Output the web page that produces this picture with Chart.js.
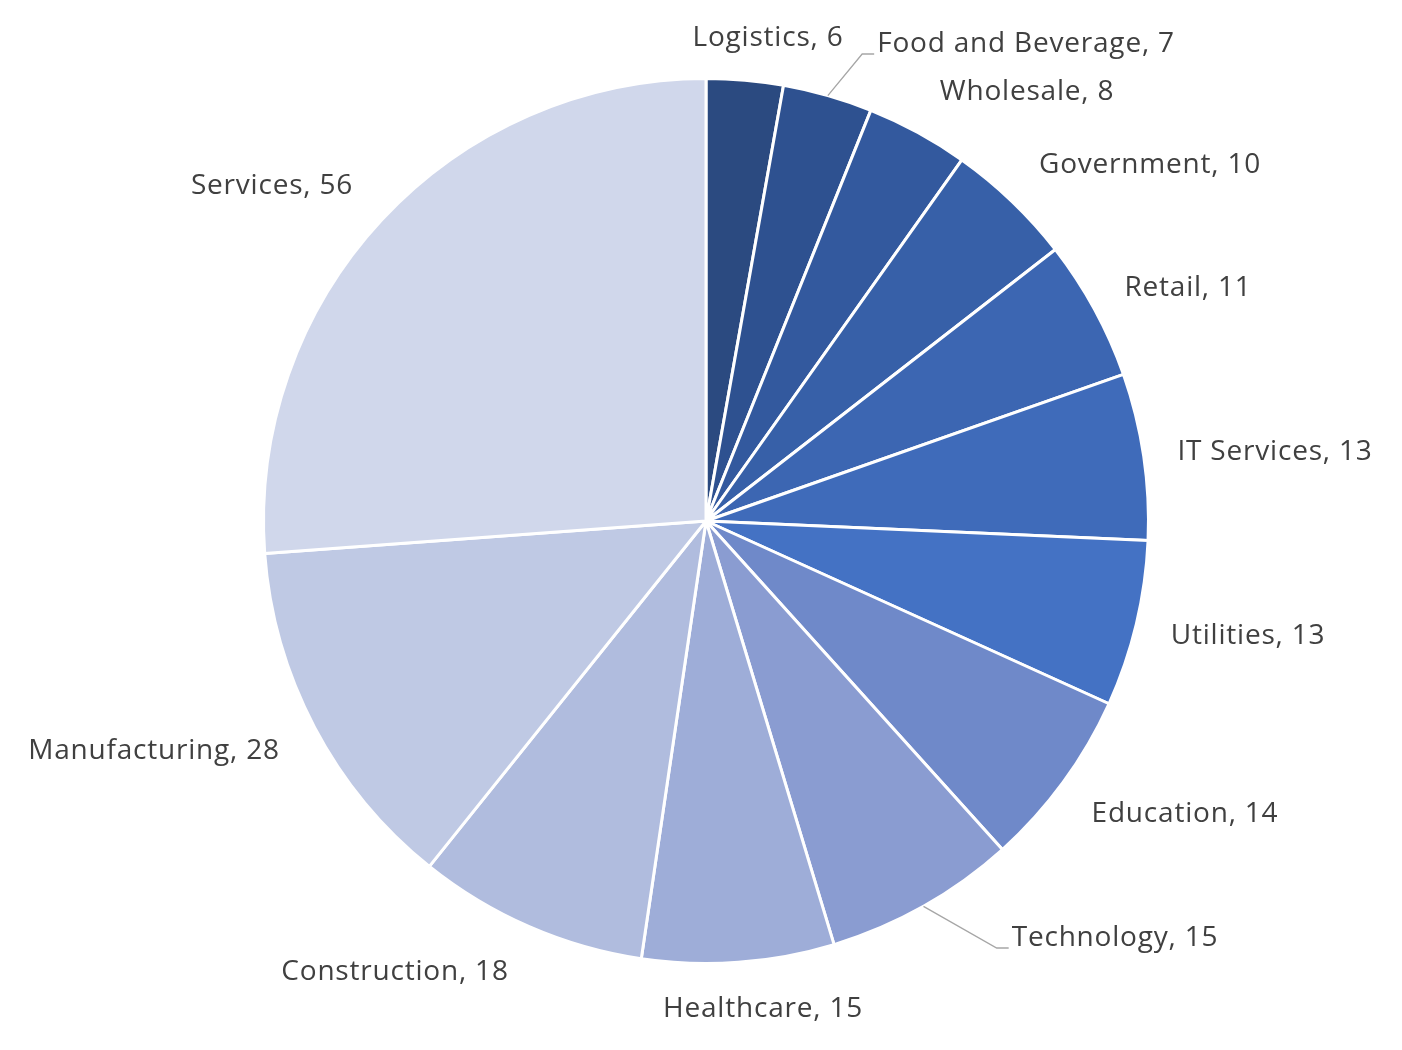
<!DOCTYPE html>
<html>
<head>
    <title>Sectors</title>
    <script src="https://cdn.jsdelivr.net/npm/chart.js"></script>
    <style>
        html, body { margin: 0; padding: 0; background: #ffffff; }
        #wrap { width: 1402px; height: 1050px; }
    </style>
</head>
<body>
    <div id="wrap"><canvas id="pie"></canvas></div>
    <script>
        const sectors = ['Logistics', 'Food and Beverage', 'Wholesale', 'Government', 'Retail', 'IT Services',
            'Utilities', 'Education', 'Technology', 'Healthcare', 'Construction', 'Manufacturing', 'Services'];
        const counts = [6, 7, 8, 10, 11, 13, 13, 14, 15, 15, 18, 28, 56];

        const sliceColors = ['#2b4a80', '#2e5190', '#33599e', '#3760a8', '#3c66b2', '#3f6bba',
            '#4472c4', '#6f89c9', '#8a9cd1', '#9eadd8', '#b0bcde', '#bfc9e4', '#d0d7eb'];

        // where each label's text is centred, and which ones get a leader line
        const labelSpots = [
            [768, 38], [1026, 44], [1027, 92], [1150, 165], [1188, 288], [1275, 452],
            [1248, 636], [1185, 814], [1115, 938], [763, 1009], [395, 972], [154, 751], [272, 186]
        ];
        const withLeader = [1, 8];

        const labelPlugin = {
            id: 'sliceLabels',
            afterDatasetsDraw(chart) {
                const ctx = chart.ctx;
                const arcs = chart.getDatasetMeta(0).data;
                ctx.save();
                ctx.font = '28px "Open Sans", "Noto Sans", sans-serif';
                ctx.letterSpacing = '0.8px';
                ctx.fillStyle = '#404040';
                ctx.textAlign = 'center';
                ctx.textBaseline = 'middle';
                sectors.forEach((name, i) => {
                    const text = name + ', ' + counts[i];
                    const [x, y] = labelSpots[i];
                    ctx.fillText(text, x, y);
                    if (withLeader.includes(i)) {
                        const a = arcs[i];
                        const mid = (a.startAngle + a.endAngle) / 2;
                        const sx = a.x + Math.cos(mid) * a.outerRadius;
                        const sy = a.y + Math.sin(mid) * a.outerRadius;
                        const left = x - ctx.measureText(text).width / 2 - 3;
                        const ly = y + 10;
                        ctx.beginPath();
                        ctx.strokeStyle = '#a6a6a6';
                        ctx.lineWidth = 1.3;
                        ctx.moveTo(sx, sy);
                        ctx.lineTo(left - 12, ly);
                        ctx.lineTo(left, ly);
                        ctx.stroke();
                    }
                });
                ctx.restore();
            }
        };

        new Chart(document.getElementById('pie'), {
            type: 'pie',
            data: {
                labels: sectors,
                datasets: [{
                    data: counts,
                    backgroundColor: sliceColors,
                    borderColor: '#ffffff',
                    borderWidth: 3
                }]
            },
            options: {
                responsive: true,
                maintainAspectRatio: false,
                animation: false,
                layout: { padding: { left: 262, right: 252, top: 77, bottom: 85 } },
                plugins: {
                    legend: { display: false },
                    tooltip: { enabled: false }
                }
            },
            plugins: [labelPlugin]
        });
    </script>
</body>
</html>
